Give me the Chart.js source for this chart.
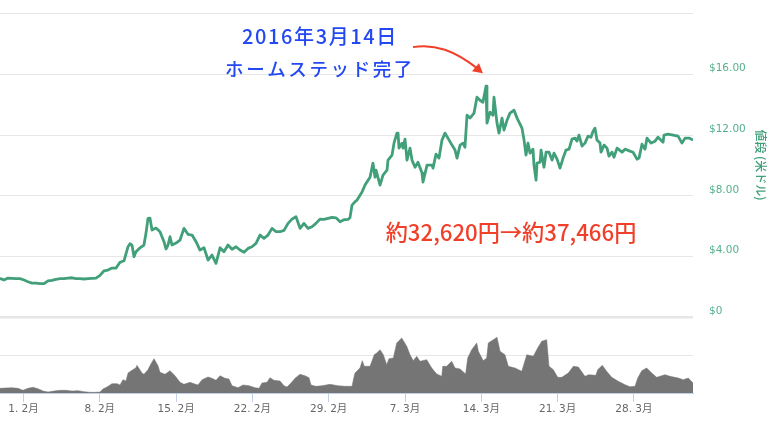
<!DOCTYPE html>
<html lang="ja">
<head>
<meta charset="utf-8">
<title>値段</title>
<script src="https://cdn.jsdelivr.net/npm/chart.js@4/dist/chart.umd.min.js"></script>
<style>
  html, body { margin: 0; background: #fff; }
  #chart-box { position: relative; width: 772px; height: 426px; }
</style>
</head>
<body>
<div id="chart-box"><canvas id="price-chart"></canvas></div>
<script>
// days counted from 1 Feb 2016
const priceDays = [-2.16,-1.79,-1.42,-1.06,-0.69,-0.32,0.05,0.41,0.78,1.15,1.51,1.88,2.25,2.61,2.98,3.35,3.72,4.08,4.45,4.82,5.18,5.55,5.92,6.28,6.65,7.02,7.39,7.75,8.12,8.49,8.85,9.22,9.59,9.77,9.95,10.14,10.32,10.69,11.05,11.24,11.42,11.60,11.79,12.16,12.52,12.89,13.07,13.26,13.44,13.62,13.99,14.36,14.72,15.09,15.46,15.83,16.19,16.56,16.93,17.29,17.66,18.03,18.39,18.76,19.13,19.50,19.86,20.23,20.60,20.96,21.33,21.70,22.06,22.43,22.80,23.17,23.53,23.90,24.27,24.63,25.00,25.37,25.73,26.10,26.47,26.83,27.20,27.57,27.94,28.30,28.67,29.04,29.40,29.77,29.95,30.14,30.41,30.60,31.06,31.33,31.79,32.06,32.25,32.34,32.71,32.98,33.35,33.44,33.81,33.99,34.26,34.36,34.45,34.72,34.82,35.00,35.18,35.46,35.64,35.92,36.19,36.56,36.65,37.02,37.48,37.57,37.84,38.12,38.39,38.67,38.94,39.31,39.59,39.77,40.05,40.32,40.50,40.69,40.96,41.33,41.60,41.88,42.15,42.43,42.52,42.80,43.07,43.16,43.44,43.62,43.90,44.08,44.36,44.63,45.00,45.28,45.73,45.92,46.10,46.28,46.47,46.74,46.83,47.02,47.11,47.39,47.48,47.75,47.94,48.21,48.49,48.67,48.95,49.22,49.50,49.77,50.05,50.32,50.60,50.78,50.96,51.24,51.51,51.79,52.06,52.25,52.43,52.61,52.89,52.98,53.26,53.53,53.71,53.99,54.17,54.45,54.91,55.18,55.64,55.92,56.28,56.47,56.74,57.02,57.20,57.57,57.94,58.21,58.67,58.76,59.13,59.59,60.05,60.41,60.69,61.06,61.42];
const priceValues = [2.55,2.44,2.57,2.55,2.53,2.53,2.44,2.33,2.24,2.24,2.20,2.20,2.39,2.42,2.49,2.53,2.53,2.57,2.59,2.53,2.53,2.51,2.53,2.55,2.57,2.75,3.05,3.10,3.23,3.23,3.61,3.71,4.64,4.84,4.75,3.98,4.31,4.57,4.75,5.54,6.51,6.53,5.74,5.87,5.63,4.97,4.49,4.75,5.30,4.75,4.88,5.08,5.85,5.46,5.41,4.97,4.42,4.57,3.76,4.09,3.54,4.57,4.31,4.75,4.47,4.64,4.42,4.27,4.53,4.64,4.86,5.41,5.19,5.41,5.85,5.63,5.63,5.72,6.18,6.46,6.62,5.85,6.18,5.85,5.96,6.18,6.46,6.44,6.51,6.58,6.55,6.29,6.42,6.44,6.55,7.39,7.61,7.72,8.25,8.71,9.23,10.16,9.23,9.70,8.71,9.37,9.70,10.36,10.69,11.48,12.14,12.14,11.15,11.48,11.15,11.74,10.36,11.15,10.36,9.89,10.22,9.50,8.91,10.03,10.03,9.83,10.75,10.49,11.68,12.14,11.81,11.35,11.02,10.49,11.35,11.48,11.21,13.32,13.13,13.46,14.51,14.31,14.18,15.24,12.80,13.52,13.32,14.51,12.80,12.14,13.13,12.34,12.99,13.46,13.65,13.13,12.47,11.68,10.69,11.48,10.82,11.08,10.03,9.04,10.16,10.22,11.02,9.89,10.88,10.88,10.36,10.82,10.42,9.83,10.49,11.02,11.08,11.74,11.81,11.61,12.01,11.28,11.48,11.94,11.87,12.27,12.47,11.68,11.48,10.88,11.35,11.15,10.62,10.88,10.55,11.15,10.88,11.08,10.95,10.88,10.42,10.49,11.41,11.08,11.81,11.48,11.61,11.87,11.54,12.01,12.07,12.01,11.94,11.48,11.81,11.81,11.68];

// volume in millions of USD
const volumeDays = [-2.16,-1.61,-1.06,-0.50,-0.05,0.41,0.87,1.33,1.79,2.25,2.80,3.35,3.90,4.45,5.00,5.55,6.10,6.65,7.02,7.29,7.66,8.12,8.58,8.85,9.13,9.40,9.59,9.95,10.32,10.41,10.87,11.05,11.42,11.60,11.97,12.34,12.52,12.98,13.44,13.90,14.36,14.72,15.28,15.64,16.01,16.38,16.93,17.29,17.66,18.03,18.49,18.85,19.13,19.68,20.14,20.69,21.24,21.61,21.88,22.34,22.61,22.98,23.53,23.90,24.17,24.54,24.91,25.37,25.82,26.19,26.38,26.83,27.39,28.12,28.85,29.49,30.14,30.26,30.41,30.87,31.08,31.27,31.79,32.18,32.40,32.71,33.01,33.32,33.53,33.93,34.24,34.70,35.16,35.46,35.76,36.07,36.38,36.99,37.45,37.91,38.37,38.46,38.82,39.28,39.59,40.05,40.56,40.75,41.12,41.58,41.73,42.18,42.49,42.64,43.10,43.44,43.72,44.17,44.48,45.09,45.71,46.17,46.77,47.17,47.54,48.00,48.21,48.61,49.01,49.38,49.98,50.44,50.90,51.51,51.86,52.50,52.68,53.10,53.50,53.96,54.57,55.18,55.64,56.10,56.35,56.72,57.17,57.63,58.09,58.85,59.31,60.07,60.53,60.99,61.42];
const volumeValues = [6.1,6.6,7.0,6.1,3.5,6.1,7.5,5.7,2.6,1.3,2.6,3.5,3.5,2.6,3.1,1.8,0.9,0.9,1.3,5.3,7.9,12.3,12.3,10.5,17.5,15.8,26.3,29.8,33.3,36.4,26.3,24.6,30.7,36.0,45.2,36.0,27.2,24.6,29.4,22.8,14.0,11.4,14.0,12.3,10.5,17.5,21.1,19.3,16.7,22.8,19.3,18.4,9.6,7.0,10.5,9.6,7.0,6.1,13.2,14.0,20.2,16.7,15.8,9.6,7.9,13.2,19.3,24.6,22.8,20.2,10.5,8.8,9.6,11.4,9.6,8.8,8.8,17.5,26.3,32.9,42.5,35.1,35.1,50.4,52.6,57.0,50.4,37.3,45.2,46.1,65.8,72.4,61.4,50.4,42.5,48.2,41.7,43.9,32.9,25.0,21.9,35.1,35.1,41.7,32.9,31.6,25.0,46.1,57.0,65.8,54.8,42.5,46.1,65.8,70.2,73.2,54.8,50.4,35.1,32.9,28.5,50.4,48.2,59.2,68.0,70.2,35.1,30.7,20.6,20.6,26.3,35.1,34.2,21.9,24.1,23.2,30.7,36.4,28.5,20.6,15.4,11.0,8.3,8.8,19.7,29.4,32.9,26.3,20.6,24.1,21.9,19.7,17.5,19.7,13.2];

const tickDays = [0, 7, 14, 21, 28, 35, 42, 49, 56];
const tickLabels = ["1. 2月", "8. 2月", "15. 2月", "22. 2月", "29. 2月", "7. 3月", "14. 3月", "21. 3月", "28. 3月"];
const priceTicks = [0, 4, 8, 12, 16, 20.07];
const priceTickLabels = ["$0", "$4.00", "$8.00", "$12.00", "$16.00", ""];
const volumeTicks = [50];

const GREEN = "#41a07a";
const GRID = "#e6e6e6";
const AXIS_BLUE = "#c0d0e6";
const CJK = '"Noto Sans CJK JP", sans-serif';

// fixed axis strip, and no label overhang pushing the plot down
function fitRightAxis(axis) {
    axis.width = 79;
    axis.paddingTop = 0;
    axis.paddingBottom = 0;
}

// callouts painted over the chart
const calloutPlugin = {
    id: "callouts",
    afterDraw(chart) {
        const ctx = chart.ctx;
        ctx.save();
        ctx.textAlign = "center";
        ctx.textBaseline = "middle";

        ctx.fillStyle = "#2449f2";
        ctx.font = "500 20px " + CJK;
        ctx.letterSpacing = "1.6px";
        ctx.fillText("2016年3月14日", 320, 36);
        ctx.font = "500 18.5px " + CJK;
        ctx.letterSpacing = "2.6px";
        ctx.fillText("ホームステッド完了", 320, 69);

        ctx.fillStyle = "#f0402a";
        ctx.font = "500 22.2px " + CJK;
        ctx.letterSpacing = "0px";
        ctx.fillText("約32,620円→約37,466円", 511, 233);

        // arrow ends just above the 14 March peak
        const tipX = chart.scales.x.getPixelForValue(42.15);
        const tipY = chart.scales.y.getPixelForValue(16.1);
        ctx.strokeStyle = "#f0402a";
        ctx.lineWidth = 2;
        ctx.beginPath();
        ctx.moveTo(tipX - 70, tipY - 26);
        ctx.bezierCurveTo(tipX - 48, tipY - 30, tipX - 28, tipY - 22, tipX - 6, tipY - 5);
        ctx.stroke();
        ctx.fillStyle = "#f0402a";
        ctx.beginPath();
        ctx.moveTo(tipX, tipY);
        ctx.lineTo(tipX - 11, tipY - 2);
        ctx.lineTo(tipX - 4, tipY - 10);
        ctx.closePath();
        ctx.fill();
        ctx.restore();
    },
};

new Chart(document.getElementById("price-chart"), {
    type: "line",
    data: {
        datasets: [
            {
                label: "値段",
                yAxisID: "y",
                data: priceDays.map((d, i) => ({ x: d, y: priceValues[i] })),
                borderColor: GREEN,
                borderWidth: 2.8,
                borderJoinStyle: "round",
                pointRadius: 0,
                tension: 0,
            },
            {
                label: "出来高",
                yAxisID: "yVolume",
                data: volumeDays.map((d, i) => ({ x: d, y: volumeValues[i] })),
                borderColor: "#757575",
                borderWidth: 0.5,
                backgroundColor: "#757575",
                fill: "origin",
                pointRadius: 0,
                tension: 0,
            },
        ],
    },
    options: {
        responsive: true,
        maintainAspectRatio: false,
        animation: false,
        layout: { padding: { top: 13 } },
        plugins: { legend: { display: false }, tooltip: { enabled: false } },
        scales: {
            x: {
                type: "linear",
                min: -2.156,
                max: 61.42,
                afterBuildTicks: (axis) => { axis.ticks = tickDays.map((value) => ({ value })); },
                afterFit: (axis) => { axis.height = 33; },
                border: { color: AXIS_BLUE },
                grid: { drawOnChartArea: false, tickColor: AXIS_BLUE, tickLength: 9 },
                ticks: {
                    autoSkip: false,
                    maxRotation: 0,
                    padding: 1,
                    color: "#666",
                    font: { family: '"DejaVu Sans", ' + CJK, size: 10.5 },
                    callback: (value) => tickLabels[tickDays.indexOf(value)],
                },
            },
            y: {
                position: "right",
                stack: "panes",
                stackWeight: 304,
                min: 0,
                max: 20.07,
                afterBuildTicks: (axis) => { axis.ticks = priceTicks.map((value) => ({ value })); },
                afterFit: fitRightAxis,
                border: { display: false },
                grid: {
                    color: GRID,
                    lineWidth: (c) => (c.tick && c.tick.value === 0 ? 2.5 : 1),
                    drawTicks: false,
                },
                ticks: {
                    color: "#55b08c",
                    padding: 16,
                    labelOffset: -6,
                    font: { family: '"DejaVu Sans", sans-serif', size: 10.5 },
                    callback: (value) => priceTickLabels[priceTicks.indexOf(value)],
                },
                title: {
                    display: true,
                    text: "値段 (米ドル)",
                    color: GREEN,
                    padding: { top: 4, bottom: 3 },
                    font: { family: CJK, size: 12, weight: "500" },
                },
            },
            yVolume: {
                position: "right",
                stack: "panes",
                stackWeight: 76,
                min: 0,
                max: 100,
                afterBuildTicks: (axis) => { axis.ticks = volumeTicks.map((value) => ({ value })); },
                afterFit: fitRightAxis,
                border: { display: false },
                grid: { color: GRID, drawTicks: false },
                ticks: { display: false },
            },
        },
    },
    plugins: [calloutPlugin],
});
</script>
</body>
</html>
